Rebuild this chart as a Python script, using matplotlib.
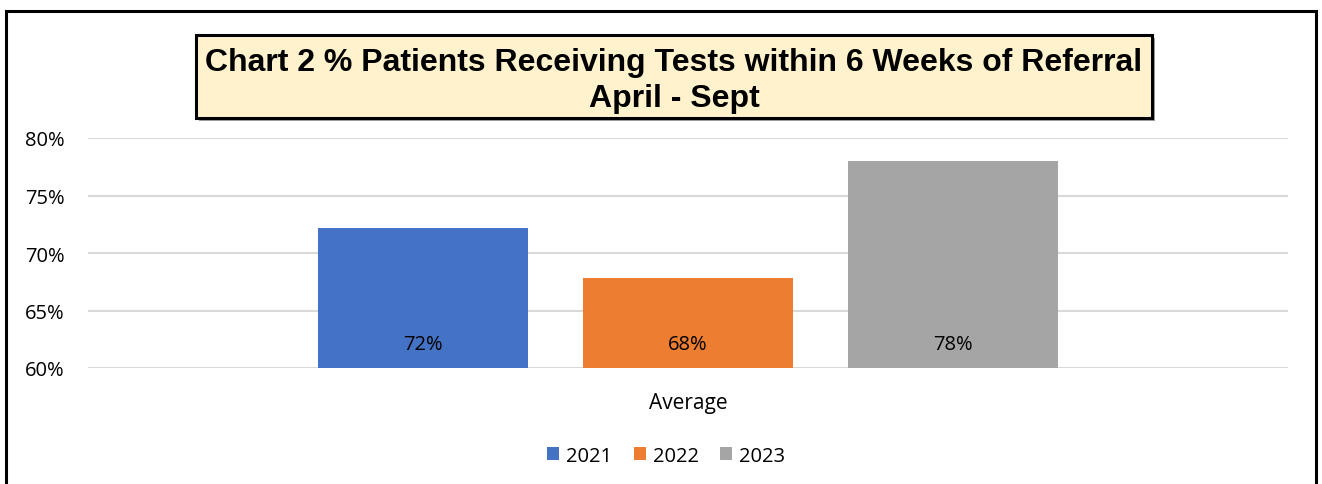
import matplotlib.pyplot as plt
import matplotlib.patches as patches
import matplotlib.transforms as mtransforms
import numpy as np

# data
years = ['2021', '2022', '2023']
averages = [0.7217, 0.6783, 0.7800]
category = 'Average'
colors = ['#4472C4', '#ED7D31', '#A5A5A5']
yticks = [0.60, 0.65, 0.70, 0.75, 0.80]


def main():
    plt.rcParams['font.family'] = ['Open Sans', 'DejaVu Sans']

    fig = plt.figure(figsize=(13.22, 4.85), dpi=100)
    fig.patch.set_facecolor('white')

    # outer frame of the chart area
    fig.patches.append(patches.Rectangle((6 / 1322, -0.05), 1310 / 1322, 1 - 12 / 485 + 0.05,
                                         transform=fig.transFigure, fill=False,
                                         edgecolor='black', linewidth=2.2, zorder=0))

    ax = fig.add_axes([88 / 1322, 1 - 369 / 485, 1200 / 1322, 230 / 485])
    width = 0.175
    offsets = np.array([-1, 0, 1]) * 0.221
    for i, (yr, val) in enumerate(zip(years, averages)):
        ax.bar(offsets[i], val - 0.60, bottom=0.60, width=width, color=colors[i],
               label=yr, zorder=3)
        trans = mtransforms.blended_transform_factory(ax.transData, ax.transAxes)
        ax.text(offsets[i], 0.105, '{:.0%}'.format(val), transform=trans,
                ha='center', va='center', fontsize=14.5, color='black', zorder=4)

    ax.set_xlim(-0.5, 0.5)
    ax.set_ylim(0.60, 0.80)
    ax.set_yticks(yticks)
    ax.set_yticklabels(['{:.0%}'.format(t) for t in yticks], fontsize=14.5)
    ax.set_xticks([0])
    ax.set_xticklabels([category], fontsize=15)
    ax.tick_params(axis='both', length=0)
    ax.tick_params(axis='y', pad=17)
    ax.tick_params(axis='x', pad=17)
    ax.grid(axis='y', color='#D9D9D9', linewidth=1.5, zorder=0)
    for s in ['top', 'right', 'left', 'bottom']:
        ax.spines[s].set_visible(False)

    ax.legend(loc='center', bbox_to_anchor=(0.504, 0.058), bbox_transform=fig.transFigure,
              ncol=3, frameon=False, fontsize=14.5, handlelength=0.6, handleheight=0.6,
              handletextpad=0.35, columnspacing=1.05)

    # title box
    fig.patches.append(patches.Rectangle((199 / 1322, 1 - 122 / 485), 956 / 1322, 83 / 485,
                                         transform=fig.transFigure, facecolor='#A0A0A0',
                                         edgecolor='none', zorder=1))
    fig.patches.append(patches.Rectangle((196 / 1322, 1 - 119 / 485), 956 / 1322, 83 / 485,
                                         transform=fig.transFigure, facecolor='#FFF2CC',
                                         edgecolor='black', linewidth=2.2, zorder=2))
    fig.text(674 / 1322, 1 - 63 / 485, 'Chart 2 % Patients Receiving Tests within 6 Weeks of Referral',
             ha='center', va='center', fontsize=23, fontweight='bold',
             family='Liberation Sans', zorder=3)
    fig.text(674 / 1322, 1 - 99 / 485, 'April - Sept', ha='center', va='center',
             fontsize=23, fontweight='bold', family='Liberation Sans', zorder=3)

    fig.savefig('out.png', dpi=100, facecolor='white')


if __name__ == '__main__':
    main()
